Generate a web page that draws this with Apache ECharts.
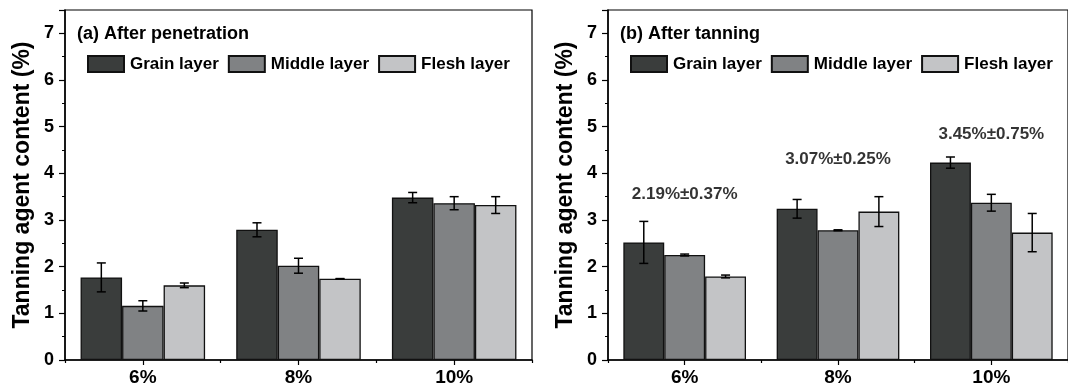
<!DOCTYPE html>
<html>
<head>
<meta charset="utf-8">
<title>Tanning agent content</title>
<script src="https://cdn.jsdelivr.net/npm/echarts@6/dist/echarts.min.js"></script>
<style>
  html, body { margin: 0; padding: 0; background: #fff; }
  #chart { width: 1068px; height: 388px; }
</style>
</head>
<body>
<div id="chart"></div>
<script>
// data
const categories = ['6%', '8%', '10%'];
const layerNames = ['Grain layer', 'Middle layer', 'Flesh layer'];

// (a) after penetration
const penGrain = [1.77, 2.79, 3.48];
const penGrainErr = [0.31, 0.15, 0.11];
const penMiddle = [1.16, 2.02, 3.36];
const penMiddleErr = [0.11, 0.16, 0.14];
const penFlesh = [1.60, 1.74, 3.32];
const penFleshErr = [0.05, 0.005, 0.18];

// (b) after tanning
const tanGrain = [2.52, 3.24, 4.23];
const tanGrainErr = [0.45, 0.20, 0.12];
const tanMiddle = [2.25, 2.78, 3.37];
const tanMiddleErr = [0.02, 0.01, 0.18];
const tanFlesh = [1.79, 3.18, 2.73];
const tanFleshErr = [0.03, 0.32, 0.41];

const annotLabels = ['2.19%±0.37%', '3.07%±0.25%', '3.45%±0.75%'];
const annotY = [3.55, 4.30, 4.84];

const yTicks = [0, 1, 2, 3, 4, 5, 6, 7];

const FONT = "'Liberation Sans', Arial, sans-serif";
const colors = ['#3a3d3c', '#808284', '#c3c4c6'];

let myChart = echarts.init(document.getElementById('chart'));

function barSeries(name, data, idx, gi) {
  return {
    name: name,
    type: 'bar',
    xAxisIndex: gi * 2,
    yAxisIndex: gi,
    data: data,
    barGap: '0%',
    barCategoryGap: '20%',
    itemStyle: {
      color: colors[idx],
      borderColor: '#111',
      borderWidth: 1.3,
    },
    emphasis: { disabled: true },
  };
}

// error bars drawn on top of each bar, offset by the bar's slot in the group
function errSeries(vals, errs, idx, gi) {
  return {
    type: 'custom',
    xAxisIndex: gi * 2,
    yAxisIndex: gi,
    z: 5,
    silent: true,
    encode: { x: 0, y: 1 },
    data: vals.map((v, i) => [i, v, errs[i]]),
    renderItem: function (params, api) {
      let ci = api.value(0);
      let v = api.value(1);
      let e = api.value(2);
      let bw = api.size([1, 0])[0] * 0.8 / 3;
      let x = api.coord([ci, v])[0] + (idx - 1) * bw;
      let yTop = api.coord([ci, v + e])[1];
      let yBot = api.coord([ci, v - e])[1];
      let st = { stroke: '#000', lineWidth: 1.5 };
      return {
        type: 'group',
        children: [
          { type: 'line', shape: { x1: x, y1: yTop, x2: x, y2: yBot }, style: st },
          { type: 'line', shape: { x1: x - 4.5, y1: yTop, x2: x + 4.5, y2: yTop }, style: st },
          { type: 'line', shape: { x1: x - 4.5, y1: yBot, x2: x + 4.5, y2: yBot }, style: st },
        ],
      };
    },
  };
}

function xAxes(gi) {
  return [
    {
      type: 'category',
      gridIndex: gi,
      data: categories,
      axisLine: { lineStyle: { color: '#000', width: 1.5 } },
      axisTick: { show: true, length: 3, lineStyle: { color: '#000', width: 1.2 } },
      axisLabel: {
        color: '#000',
        fontFamily: FONT,
        fontWeight: 'bold',
        fontSize: 19,
        margin: 8,
      },
    },
    {
      type: 'category',
      gridIndex: gi,
      position: 'bottom',
      data: categories,
      axisLine: { show: false },
      axisTick: { show: true, alignWithLabel: true, length: 5, lineStyle: { color: '#000', width: 1.2 } },
      axisLabel: { show: false },
    },
  ];
}

function yAxis(gi) {
  return {
    type: 'value',
    gridIndex: gi,
    min: 0,
    max: 7.5,
    interval: 1,
    name: 'Tanning agent content (%)',
    nameLocation: 'middle',
    nameGap: 31,
    nameTextStyle: {
      color: '#000',
      fontFamily: FONT,
      fontWeight: 'bold',
      fontSize: 23,
    },
    axisLine: { show: true, lineStyle: { color: '#000', width: 1.5 } },
    axisTick: { show: true, length: 6, lineStyle: { color: '#000', width: 1.2 } },
    minorTick: { show: true, splitNumber: 2, length: 3, lineStyle: { color: '#000', width: 1 } },
    splitLine: { show: false },
    axisLabel: {
      color: '#000',
      fontFamily: FONT,
      fontWeight: 'bold',
      fontSize: 18,
      margin: 11,
      showMaxLabel: false,
      formatter: function (v) {
        return yTicks.indexOf(v) >= 0 ? String(v) : '';
      },
    },
  };
}

function legend(gi, left) {
  return {
    left: left,
    top: 50,
    orient: 'horizontal',
    data: layerNames,
    icon: 'rect',
    itemWidth: 36,
    itemHeight: 16,
    itemGap: 9,
    selectedMode: false,
    textStyle: {
      color: '#000',
      fontFamily: FONT,
      fontWeight: 'bold',
      fontSize: 17,
      padding: [0, 0, 0, 1],
    },
  };
}

myChart.setOption({
  animation: false,
  backgroundColor: '#fff',
  title: [
    {
      text: '(a) After penetration',
      left: 72,
      top: 20,
      textStyle: { color: '#000', fontFamily: FONT, fontWeight: 'bold', fontSize: 18 },
    },
    {
      text: '(b) After tanning',
      left: 615,
      top: 20,
      textStyle: { color: '#000', fontFamily: FONT, fontWeight: 'bold', fontSize: 18 },
    },
  ],
  legend: [legend(0, 82), legend(1, 625)],
  grid: [
    { left: 65, top: 10, width: 467, bottom: 28, show: true, borderColor: '#000', borderWidth: 1.2 },
    { left: 608, top: 10, width: 470, bottom: 28, show: true, borderColor: '#000', borderWidth: 1.2 },
  ],
  xAxis: xAxes(0).concat(xAxes(1)),
  yAxis: [yAxis(0), yAxis(1)],
  series: [
    barSeries(layerNames[0], penGrain, 0, 0),
    barSeries(layerNames[1], penMiddle, 1, 0),
    barSeries(layerNames[2], penFlesh, 2, 0),
    errSeries(penGrain, penGrainErr, 0, 0),
    errSeries(penMiddle, penMiddleErr, 1, 0),
    errSeries(penFlesh, penFleshErr, 2, 0),
    barSeries(layerNames[0], tanGrain, 0, 1),
    barSeries(layerNames[1], tanMiddle, 1, 1),
    barSeries(layerNames[2], tanFlesh, 2, 1),
    errSeries(tanGrain, tanGrainErr, 0, 1),
    errSeries(tanMiddle, tanMiddleErr, 1, 1),
    errSeries(tanFlesh, tanFleshErr, 2, 1),
    {
      // mean ± sd labels above each group
      type: 'scatter',
      xAxisIndex: 2,
      yAxisIndex: 1,
      symbolSize: 0,
      silent: true,
      data: annotY.map((v, i) => [i, v]),
      label: {
        show: true,
        position: 'inside',
        color: '#000',
        fontFamily: FONT,
        fontWeight: 'bold',
        fontSize: 17,
        formatter: function (p) {
          return annotLabels[p.dataIndex];
        },
      },
    },
  ],
});

window.addEventListener('resize', function () {
  myChart.resize();
});
</script>
</body>
</html>
